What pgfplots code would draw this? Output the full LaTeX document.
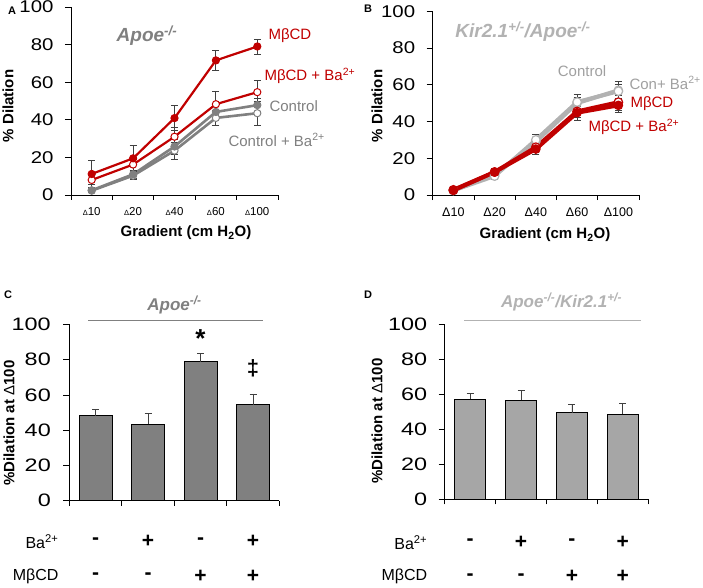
\documentclass[border=0pt]{standalone}
\usepackage{pgfplots}
\pgfplotsset{compat=1.18}
\usepackage{fontspec}
\setmainfont{Liberation Sans}
\newfontfamily\tickA{Liberation Sans}[FakeStretch=1.2]
\newfontfamily\tickC{Liberation Sans}[FakeStretch=1.3]
\definecolor{myred}{RGB}{192,0,0}
\definecolor{gA}{RGB}{128,128,128}
\definecolor{gB}{RGB}{178,178,178}
\definecolor{gBt}{RGB}{160,160,160}
\definecolor{ebar}{RGB}{64,64,64}
\definecolor{barC}{RGB}{128,128,128}
\definecolor{barD}{RGB}{166,166,166}
\newcommand{\fs}[1]{\fontsize{#1}{#1}\selectfont}
\tikzset{sign/.style={font=\bfseries\fs{21}, inner sep=1pt}}
\pgfplotsset{
  base/.style={
    scale only axis, clip=false,
    axis x line*=bottom, axis y line*=left,
    axis line style={black, line width=0.7pt},
    tick style={black, line width=0.7pt},
    tick align=outside, major tick length=6pt,
    ymin=0, ymax=100, ytick={0,20,...,100},
    /pgf/number format/assume math mode=true,
    xmin=0.5, xmax=5.5,
    xtick={1,2,3,4,5},
    major x tick style={draw=none},
    minor xtick={0.5,1.5,...,5.5},
    minor tick length=5pt,
    minor x tick style={black, line width=0.7pt},
  },
  ebars/.style={
    error bars/.cd, y dir=both, y explicit,
    error bar style={ebar, line width=0.8pt},
    error mark options={ebar, rotate=90, mark size=3.5pt, line width=0.8pt},
  },
  ebarsup/.style={
    error bars/.cd, y dir=plus, y explicit,
    error bar style={ebar, line width=0.8pt},
    error mark options={ebar, rotate=90, mark size=3.5pt, line width=0.8pt},
  },
}
\begin{document}
\begin{tikzpicture}[x=1pt,y=1pt]
\useasboundingbox (0,0) rectangle (703,587);

% ---------------- Panel A ----------------
\begin{axis}[base, at={(71pt,392pt)}, anchor=south west,
  width=207pt, height=188pt,
  yticklabel style={font=\tickA\fs{17}, xshift=-8pt},
  xticklabels={{\fs{7.5}Δ}10,{\fs{7.5}Δ}20,{\fs{7.5}Δ}40,{\fs{7.5}Δ}60,{\fs{7.5}Δ}100},
  xticklabel style={font=\fs{11.5}, yshift=-3pt},
]
\addplot[gA, line width=2.6pt, mark=*, mark size=3.6pt, mark options={fill=white, draw=gA, line width=1pt}, ebars]
  coordinates {(1,2.3) +- (0,1) (2,10.3) +- (0,2) (3,23.6) +- (0,4.5) (4,41) +- (0,4) (5,43.5) +- (0,6.5)};
\addplot[gA, line width=2.6pt, mark=*, mark size=3.6pt, mark options={fill=gA, draw=gA, line width=1pt}, ebars]
  coordinates {(1,2.5) +- (0,1) (2,11) +- (0,2) (3,25.8) +- (0,4) (4,44.2) +- (0,3) (5,47.8) +- (0,3.5)};
\addplot[myred, line width=2.2pt, mark=*, mark size=3.6pt, mark options={fill=white, draw=myred, line width=1pt}, ebars]
  coordinates {(1,8) +- (0,2.5) (2,16.2) +- (0,3) (3,31) +- (0,5) (4,48.3) +- (0,7) (5,54.7) +- (0,6)};
\addplot[myred, line width=2.2pt, mark=*, mark size=3.6pt, mark options={fill=myred, draw=myred, line width=1pt}, ebars]
  coordinates {(1,11.2) +- (0,7) (2,19.5) +- (0,7) (3,40.9) +- (0,6.5) (4,71.6) +- (0,5.5) (5,79) +- (0,4)};
\end{axis}

% ---------------- Panel B ----------------
\begin{axis}[base, at={(432.7pt,392pt)}, anchor=south west,
  width=206.3pt, height=183.7pt,
  yticklabel style={font=\tickA\fs{17}, xshift=-8pt},
  xticklabels={Δ10,Δ20,Δ40,Δ60,Δ100},
  xticklabel style={font=\fs{12.5}, yshift=-3pt},
]
\addplot[gB, line width=4pt, mark=*, mark size=4.3pt, mark options={fill=gB, draw=gB, line width=1pt}, ebars]
  coordinates {(1,2.5) +- (0,1) (2,11) +- (0,2) (3,29) +- (0,2) (4,50) +- (0,3) (5,57) +- (0,3)};
\addplot[gB, line width=4pt, mark=*, mark size=4.3pt, mark options={fill=white, draw=gB, line width=1.2pt}, ebars]
  coordinates {(1,2.5) +- (0,1) (2,10.3) +- (0,2) (3,30) +- (0,3) (4,50.6) +- (0,4) (5,56.5) +- (0,5.5)};
\addplot[myred, line width=4pt, mark=*, mark size=4.3pt, mark options={fill=white, draw=myred, line width=1.2pt}, ebars]
  coordinates {(1,2.8) +- (0,1) (2,12.5) +- (0,2) (3,26) +- (0,3) (4,45.5) +- (0,3) (5,50.5) +- (0,4.5)};
\addplot[myred, line width=4pt, mark=*, mark size=4.3pt, mark options={fill=myred, draw=myred, line width=1pt}, ebars]
  coordinates {(1,2.5) +- (0,1) (2,12.5) +- (0,2) (3,25) +- (0,3) (4,44.8) +- (0,4) (5,48.8) +- (0,4)};
\end{axis}

% ---------------- Panel C ----------------
\begin{axis}[base, at={(69.3pt,86.3pt)}, anchor=south west,
  width=210pt, height=176.4pt,
  xmin=0.5, xmax=4.5, xtick={1,2,3,4}, xticklabels={},
  minor xtick={0.5,1.5,...,4.5},
  yticklabel style={font=\tickC\fs{18}, xshift=-9pt},
]
\addplot[ybar, bar width=33pt, fill=barC, draw=black, line width=0.6pt, ebarsup]
  coordinates {(1,48.2) +- (0,3.5) (2,43.3) +- (0,6) (3,78.9) +- (0,4.5) (4,54.5) +- (0,6)};
\draw[gA, line width=0.8pt] (axis cs:0.86,102.4) -- (axis cs:4.19,102.4);
\node[font=\bfseries\fs{26}] at (axis cs:3,92) {*};
\node[font=\bfseries\fs{22}] at (axis cs:4,75) {‡};
\node[anchor=east, font=\fs{16}] at (axis cs:0.36,-23.2) {Ba\textsuperscript{2+}};
\node[anchor=east, font=\fs{16}] at (axis cs:0.36,-42.8) {MβCD};
\node[sign] at (axis cs:1,-23.2) {-};
\node[sign] at (axis cs:2,-23.2) {+};
\node[sign] at (axis cs:3,-23.2) {-};
\node[sign] at (axis cs:4,-23.2) {+};
\node[sign] at (axis cs:1,-42.8) {-};
\node[sign] at (axis cs:2,-42.8) {-};
\node[sign] at (axis cs:3,-42.8) {+};
\node[sign] at (axis cs:4,-42.8) {+};
\end{axis}

% ---------------- Panel D ----------------
\begin{axis}[base, at={(444.7pt,87.7pt)}, anchor=south west,
  width=203.6pt, height=175pt,
  xmin=0.5, xmax=4.5, xtick={1,2,3,4}, xticklabels={},
  minor xtick={0.5,1.5,...,4.5},
  yticklabel style={font=\tickC\fs{18}, xshift=-8pt},
]
\addplot[ybar, bar width=31pt, fill=barD, draw=black, line width=0.6pt, ebarsup]
  coordinates {(1,57.2) +- (0,3.5) (2,56.6) +- (0,5.8) (3,49.6) +- (0,4.7) (4,48.6) +- (0,6.3)};
\draw[gB, line width=0.8pt] (axis cs:0.88,102) -- (axis cs:4.36,102);
\node[anchor=east, font=\fs{16}] at (axis cs:0.225,-24.6) {Ba\textsuperscript{2+}};
\node[anchor=east, font=\fs{16}] at (axis cs:0.225,-44.2) {MβCD};
\node[sign] at (axis cs:1,-24.6) {-};
\node[sign] at (axis cs:2,-24.6) {+};
\node[sign] at (axis cs:3,-24.6) {-};
\node[sign] at (axis cs:4,-24.6) {+};
\node[sign] at (axis cs:1,-44.2) {-};
\node[sign] at (axis cs:2,-44.2) {-};
\node[sign] at (axis cs:3,-44.2) {+};
\node[sign] at (axis cs:4,-44.2) {+};
\end{axis}

% ---------------- Text: Panel A ----------------
\node[font=\bfseries\fs{11}] at (12,576) {A};
\node[gA, font=\bfseries\itshape\fs{19}] at (147,551) {Apoe\textsuperscript{-/-}};
\node[myred, anchor=west, font=\fs{15}] at (265,551) {MβCD};
\node[myred, anchor=west, font=\fs{15}] at (261,511) {MβCD + Ba\textsuperscript{2+}};
\node[gA, anchor=west, font=\fs{15}] at (266,481) {Control};
\node[gA, anchor=west, font=\fs{15}] at (225,447) {Control + Ba\textsuperscript{2+}};
\node[rotate=90, font=\bfseries\fs{15}] at (8,481) {\% Dilation};
\node[font=\bfseries\fs{15}] at (186,354) {Gradient (cm H\textsubscript{2}O)};

% ---------------- Text: Panel B ----------------
\node[font=\bfseries\fs{11}] at (368,578) {B};
\node[gB, font=\bfseries\itshape\fs{19}] at (523,555) {Kir2.1\textsuperscript{+/-}/Apoe\textsuperscript{-/-}};
\node[gBt, font=\fs{15}] at (582,516) {Control};
\node[gBt, anchor=west, font=\fs{15}] at (626,504) {Con+ Ba\textsuperscript{2+}};
\node[myred, anchor=west, font=\fs{15}] at (627,483) {MβCD};
\node[myred, anchor=west, font=\fs{15}] at (585,460) {MβCD + Ba\textsuperscript{2+}};
\node[rotate=90, font=\bfseries\fs{15}] at (377,481) {\% Dilation};
\node[font=\bfseries\fs{15}] at (545,352) {Gradient (cm H\textsubscript{2}O)};

% ---------------- Text: Panel C ----------------
\node[font=\bfseries\fs{11}] at (8,292) {C};
\node[gA, font=\bfseries\itshape\fs{17}] at (174.5,282) {Apoe\textsuperscript{-/-}};
\node[rotate=90, font=\bfseries\fs{15}] at (9,164) {\%Dilation at {\mdseries Δ}100};

% ---------------- Text: Panel D ----------------
\node[font=\bfseries\fs{11}] at (368,292) {D};
\node[gB, font=\bfseries\itshape\fs{17}] at (561.5,285) {Apoe\textsuperscript{-/-}/Kir2.1\textsuperscript{+/-}};
\node[rotate=90, font=\bfseries\fs{15}] at (377,166) {\%Dilation at {\mdseries Δ}100};
\end{tikzpicture}
\end{document}
